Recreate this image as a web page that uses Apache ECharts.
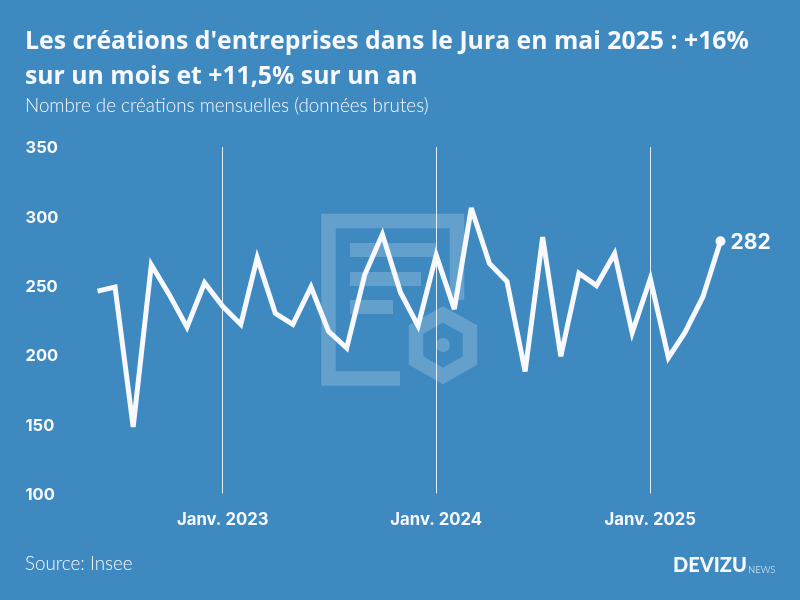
<!DOCTYPE html>
<html>
<head>
<meta charset="utf-8">
<script src="https://cdn.jsdelivr.net/npm/echarts@6/dist/echarts.min.js"></script>
<style>
  html, body { margin: 0; padding: 0; background: #3d89c0; }
  #chart { width: 800px; height: 600px; }
</style>
</head>
<body>
<div id="chart"></div>
<script>
const months = [
  '2022-06-01', '2022-07-01', '2022-08-01', '2022-09-01', '2022-10-01', '2022-11-01', '2022-12-01',
  '2023-01-01', '2023-02-01', '2023-03-01', '2023-04-01', '2023-05-01', '2023-06-01',
  '2023-07-01', '2023-08-01', '2023-09-01', '2023-10-01', '2023-11-01', '2023-12-01',
  '2024-01-01', '2024-02-01', '2024-03-01', '2024-04-01', '2024-05-01', '2024-06-01',
  '2024-07-01', '2024-08-01', '2024-09-01', '2024-10-01', '2024-11-01', '2024-12-01',
  '2025-01-01', '2025-02-01', '2025-03-01', '2025-04-01', '2025-05-01',
];
const creations = [
  246, 249, 148, 265, 244, 220, 252,
  235, 222, 270, 230, 222, 249,
  217, 205, 258, 287, 245, 221,
  272, 233, 306, 266, 253, 188,
  285, 199, 259, 250, 273, 216,
  255, 198, 216, 242, 282,
];
const yearTicks = ['2023-01-01', '2024-01-01', '2025-01-01'];
const yearLabels = ['Janv. 2023', 'Janv. 2024', 'Janv. 2025'];

const TITLE_FONT = 'Open Sans';
const TEXT_FONT = 'Lato';
const TICK_FONT = 'Inter';
const WHITE = '#f8f8ff';
const WATERMARK = 'rgba(255,255,255,0.2)';

const toTime = d => Date.parse(d + 'T00:00:00Z');
const lastIndex = creations.length - 1;
const tickTimes = yearTicks.map(toTime);

const seriesData = creations.map((v, i) => {
  const item = { value: [toTime(months[i]), v], symbol: 'none' };
  if (i === lastIndex) {
    item.symbol = 'circle';
    item.symbolSize = 10;
    item.label = {
      show: true,
      position: 'right',
      distance: 5,
      offset: [0, 1],
      formatter: String(v),
      color: WHITE,
      fontFamily: TICK_FONT,
      fontWeight: 'bold',
      fontSize: 21,
    };
  }
  return item;
});

const chart = echarts.init(document.getElementById('chart'), null, { renderer: 'canvas' });
chart.setOption({
  animation: false,
  backgroundColor: '#3d89c0',
  title: [
    {
      text: "Les créations d'entreprises dans le Jura en mai 2025 : +16%\nsur un mois et +11,5% sur un an",
      left: 25,
      top: 24,
      padding: 0,
      textStyle: { color: WHITE, fontFamily: TITLE_FONT, fontWeight: 'bold', fontSize: 24.8, lineHeight: 35 },
    },
    {
      text: 'Nombre de créations mensuelles (données brutes)',
      left: 25,
      top: 96,
      padding: 0,
      textStyle: { color: WHITE, fontFamily: TEXT_FONT, fontWeight: 300, fontSize: 18.8 },
    },
    {
      text: 'Source: Insee',
      left: 25,
      top: 554,
      padding: 0,
      textStyle: { color: WHITE, fontFamily: TEXT_FONT, fontWeight: 300, fontSize: 18.8 },
    },
  ],
  grid: { left: 97.5, right: 79.5, top: 147, bottom: 106.5 },
  xAxis: {
    type: 'value',
    min: toTime(months[0]),
    max: toTime(months[lastIndex]),
    axisLine: { show: false },
    axisTick: { show: false, customValues: tickTimes },
    splitLine: { show: true, lineStyle: { color: 'rgba(255,255,255,0.85)', width: 1 } },
    axisLabel: {
      customValues: tickTimes,
      formatter: v => yearLabels[tickTimes.indexOf(v)],
      color: WHITE,
      fontFamily: TICK_FONT,
      fontWeight: 'bold',
      fontSize: 16.7,
      margin: 18,
    },
  },
  yAxis: {
    type: 'value',
    min: 100,
    max: 350,
    interval: 50,
    axisLine: { show: false },
    axisTick: { show: false },
    splitLine: { show: false },
    axisLabel: {
      formatter: '{tick|{value}}',
      align: 'left',
      margin: 72,
      rich: {
        tick: {
          color: WHITE,
          fontFamily: TICK_FONT,
          fontWeight: 'bold',
          fontSize: 16.5,
          padding: [3, 0, 0, 0],
        },
      },
    },
  },
  graphic: [
    // logo en filigrane : document + hexagone
    { type: 'polyline', z: -1, silent: true,
      shape: { points: [[400, 378.5], [328.5, 378.5], [328.5, 221], [457, 221], [457, 300]] },
      style: { stroke: WATERMARK, fill: null, lineWidth: 14.5, lineJoin: 'miter' } },
    { type: 'rect', z: -1, silent: true, shape: { x: 350, y: 243, width: 86, height: 14 }, style: { fill: WATERMARK } },
    { type: 'rect', z: -1, silent: true, shape: { x: 350, y: 272, width: 71, height: 14 }, style: { fill: WATERMARK } },
    { type: 'rect', z: -1, silent: true, shape: { x: 350, y: 300, width: 43, height: 14 }, style: { fill: WATERMARK } },
    { type: 'polygon', z: -1, silent: true,
      shape: { points: [[443, 314.5], [470, 329.5], [470, 360.5], [443, 376], [416, 360.5], [416, 329.5]] },
      style: { stroke: WATERMARK, fill: null, lineWidth: 14.5 } },
    { type: 'circle', z: -1, silent: true, shape: { cx: 443, cy: 345, r: 7 }, style: { fill: WATERMARK } },
    // signature
    { type: 'text', left: 673, top: 556, silent: true,
      style: { text: 'DEVIZU', fill: WHITE, font: '900 20px Lato' } },
    { type: 'text', left: 748, top: 565, silent: true,
      style: { text: 'NEWS', fill: WHITE, font: '300 9.5px Lato' } },
  ],
  series: [
    {
      type: 'line',
      data: seriesData,
      showSymbol: true,
      showAllSymbol: true,
      clip: false,
      smooth: false,
      itemStyle: { color: WHITE },
      lineStyle: { color: WHITE, width: 5, join: 'miter', miterLimit: 4 },
      emphasis: { disabled: true },
    },
  ],
});
</script>
</body>
</html>
